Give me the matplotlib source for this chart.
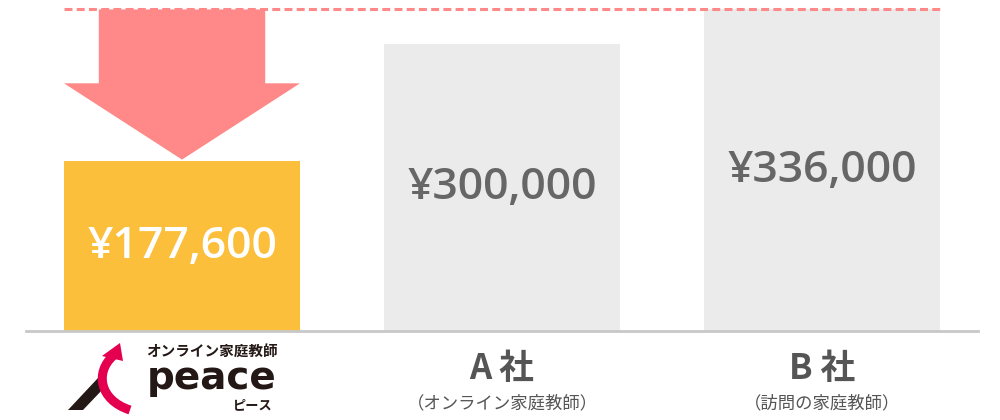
import matplotlib
matplotlib.use('Agg')
import matplotlib.pyplot as plt
from matplotlib.patches import Polygon, PathPatch
from matplotlib.path import Path

# datos
companies = ['peace', 'A 社', 'B 社']
subtitles = ['', '（オンライン家庭教師）', '（訪問の家庭教師）']
prices = [177600, 300000, 336000]
price_labels = ['¥177,600', '¥300,000', '¥336,000']

bar_colors = ['#FBBF3C', '#EBEBEB', '#EBEBEB']
text_colors = ['#FFFFFF', '#666666', '#666666']
pink = '#FF8888'

plt.rcParams['font.family'] = ['Noto Sans CJK JP', 'DejaVu Sans']

fig = plt.figure(figsize=(10, 4.2), dpi=100)
ax = fig.add_axes([0.026, 89 / 420, 0.952, 323 / 420])

w = 0.7375
x = list(range(len(prices)))
ax.bar(x, prices, width=w, color=bar_colors, zorder=2)
ax.set_xlim(-0.4875, 2.4875)
ax.set_ylim(0, 337500)

for i, v in enumerate(prices):
    ax.text(i, v / 2, price_labels[i], ha='center', va='center', fontsize=32,
            color=text_colors[i], family=['Open Sans', 'DejaVu Sans'],
            fontweight='semibold', zorder=3)

# linea base
ax.axhline(0, color='#C8C8C8', lw=2, zorder=4, clip_on=False)

# linea discontinua al nivel del mas caro
top = max(prices)
ax.plot([-w / 2, 2 + w / 2], [top, top], color=pink, lw=2.2,
        dashes=(2.6, 1.4), zorder=5, clip_on=False)

# flecha hacia abajo
low = prices[0]
mid = (top + low) / 2 + 2000
sw = 0.26
hw = w / 2
arrow = Polygon([(-sw, top), (sw, top), (sw, mid), (hw, mid), (0, low + 1500),
                 (-hw, mid), (-sw, mid)], closed=True, color=pink, lw=0, zorder=4)
ax.add_patch(arrow)

for s in ax.spines.values():
    s.set_visible(False)
ax.set_xticks([])
ax.set_yticks([])

# etiquetas inferiores
for i in (1, 2):
    xf = (26 + 952 * (i + 0.4875) / 2.975) / 1000
    fig.text(xf, 1 - 369 / 420, companies[i], ha='center', va='center',
             fontsize=25, fontweight='bold', color='#555555')
    fig.text(xf, 1 - 403 / 420, subtitles[i], ha='center', va='center',
             fontsize=12.5, color='#555555')

# logo
lax = fig.add_axes([0, 0, 1, 1])
lax.set_xlim(0, 1000)
lax.set_ylim(420, 0)
lax.axis('off')
lax.add_patch(Polygon([(68, 410), (83, 410), (104, 388), (98, 378)],
                      closed=True, color='#231815', lw=0))
red_path = Path([(113, 356), (95, 372), (99, 400), (130, 410)],
                [Path.MOVETO, Path.CURVE4, Path.CURVE4, Path.CURVE4])
lax.add_patch(PathPatch(red_path, fill=False, edgecolor='#E4004F', lw=6.5,
                        capstyle='butt'))
lax.add_patch(Polygon([(102, 356), (120, 343), (123, 361)], closed=True,
                      color='#E4004F', lw=0))
lax.text(212, 351, 'オンライン家庭教師', ha='center', va='center', fontsize=10.5,
         fontweight='bold', color='#231815')
lax.text(212, 389, companies[0], ha='center', va='baseline', fontsize=28,
         fontweight='heavy', color='#231815', family=['DejaVu Sans'])
lax.text(253, 405, 'ピース', ha='center', va='center', fontsize=9.5,
         fontweight='bold', color='#231815')

fig.savefig('out.png', dpi=100)
